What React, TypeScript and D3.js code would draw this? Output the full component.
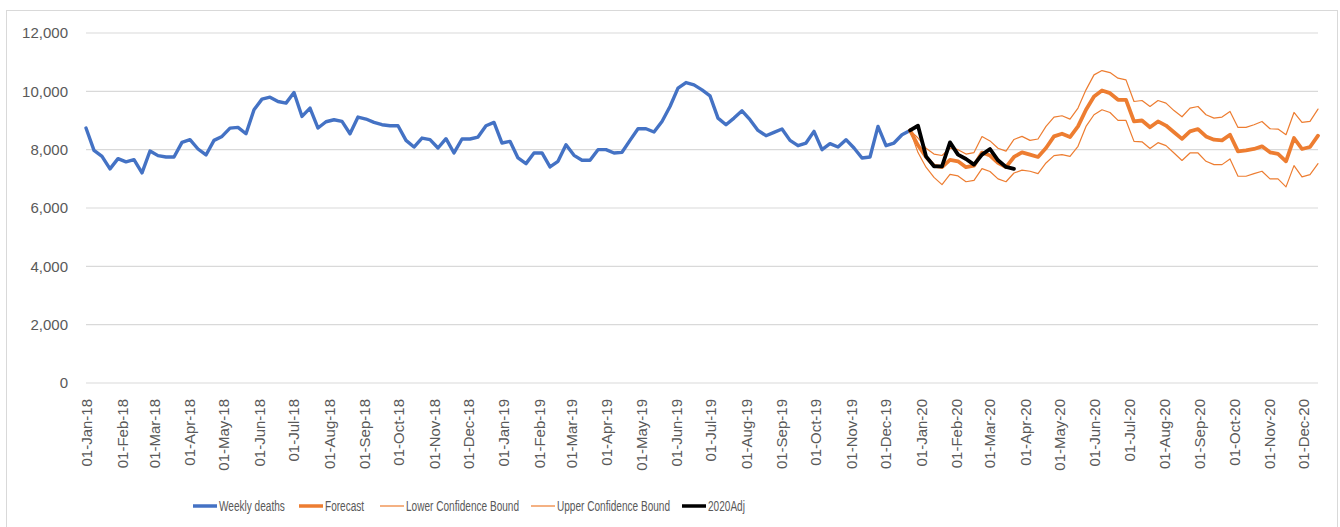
import React from "react";
import * as d3 from "d3";

// Weekly series start (Mondays), one value per week
const START_DATE = "2018-01-01";
const FORECAST_START_WEEK = 103;

const weeklyDeaths = [
  8742, 7977, 7772, 7340, 7692, 7580, 7658, 7203, 7955, 7795, 7750, 7750, 8250, 8342, 8023, 7818,
  8318, 8455, 8740, 8763, 8547, 9367, 9733, 9801, 9651, 9596, 9960, 9139, 9426, 8742, 8957, 9026,
  8968, 8547, 9117, 9050, 8935, 8855, 8820, 8820, 8318, 8090, 8398, 8342, 8057, 8376, 7887, 8365,
  8365, 8433, 8820, 8935, 8228, 8285, 7715, 7521, 7887, 7887, 7408, 7601, 8171, 7806, 7635, 7635,
  8000, 8000, 7887, 7909, 8318, 8718, 8718, 8604, 8968, 9481, 10108, 10302, 10222, 10051, 9846, 9083,
  8855, 9083, 9333, 9026, 8660, 8479, 8593, 8707, 8318, 8137, 8228, 8626, 8000, 8205, 8090, 8342,
  8057, 7715, 7750, 8797, 8137, 8228, 8513, 8660,
];

const forecast = [
  8660, 8150, 7750, 7450, 7400, 7650, 7600, 7400, 7450, 7900, 7800, 7550, 7400, 7750, 7909, 7829,
  7750, 8057, 8455, 8547, 8433, 8797, 9367, 9823, 10028, 9937, 9709, 9709, 8968, 9000, 8770, 8968,
  8826, 8600, 8370, 8626, 8707, 8455, 8342, 8318, 8513, 7943, 7977, 8023, 8114, 7909, 7853, 7601,
  8399, 8023, 8091, 8479,
];

const lowerBound = [
  8660, 7900, 7400, 7050, 6800, 7150, 7100, 6900, 6950, 7350, 7250, 7000, 6900, 7200, 7300, 7259,
  7180, 7545, 7795, 7829, 7772, 8114, 8797, 9197, 9367, 9276, 9003, 9003, 8285, 8270, 8040, 8240,
  8137, 7887, 7630, 7887, 7887, 7601, 7487, 7487, 7681, 7088, 7088, 7180, 7259, 7000, 7000, 6725,
  7453, 7067, 7145, 7521,
];

const upperBound = [
  8660, 8400, 8050, 7850, 7800, 8050, 8000, 7850, 7900, 8450, 8300, 8050, 7950, 8350, 8455, 8318,
  8365, 8797, 9117, 9162, 9048, 9426, 10051, 10564, 10711, 10643, 10451, 10393, 9651, 9686, 9481, 9686,
  9596, 9340, 9128, 9426, 9481, 9197, 9083, 9117, 9310, 8763, 8763, 8855, 8968, 8718, 8707, 8513,
  9276, 8935, 8968, 9391,
];

const adj2020 = [8660, 8820, 7772, 7430, 7430, 8250, 7829, 7681, 7487, 7829, 8023, 7635, 7408, 7340];

const yTicks = [0, 2000, 4000, 6000, 8000, 10000, 12000];

const legendItems = [
  { label: "Weekly deaths", color: "#4472C4", width: 3.5 },
  { label: "Forecast", color: "#ED7D31", width: 3.5 },
  { label: "Lower Confidence Bound", color: "#ED7D31", width: 1.2 },
  { label: "Upper Confidence Bound", color: "#ED7D31", width: 1.2 },
  { label: "2020Adj", color: "#000000", width: 3.5 },
];

const W = 1340;
const H = 527;
const plot = { left: 86, right: 1318, top: 33, bottom: 383 };

export default function App() {
  const start = new Date(START_DATE + "T00:00:00Z");
  const dateAt = (week: number) => d3.utcDay.offset(start, week * 7);
  const lastWeek = FORECAST_START_WEEK + forecast.length - 1;

  const x = d3.scaleUtc().domain([start, dateAt(lastWeek)]).range([plot.left, plot.right]);
  const y = d3.scaleLinear().domain([0, 12000]).range([plot.bottom, plot.top]);

  const line = d3
    .line<{ w: number; v: number }>()
    .x((d) => x(dateAt(d.w)))
    .y((d) => y(d.v))
    .curve(d3.curveLinear);

  const toPts = (arr: number[], offset: number) => arr.map((v, i) => ({ w: offset + i, v }));

  const months = d3.utcMonth.range(start, d3.utcDay.offset(dateAt(lastWeek), 1));
  const fmt = d3.utcFormat("%d-%b-%y");
  const yFmt = d3.format(",");

  const series = [
    { pts: toPts(weeklyDeaths, 0), color: "#4472C4", width: 3.4 },
    { pts: toPts(forecast, FORECAST_START_WEEK), color: "#ED7D31", width: 3.8 },
    { pts: toPts(lowerBound, FORECAST_START_WEEK), color: "#ED7D31", width: 1.2 },
    { pts: toPts(upperBound, FORECAST_START_WEEK), color: "#ED7D31", width: 1.2 },
    { pts: toPts(adj2020, FORECAST_START_WEEK), color: "#000000", width: 3.8 },
  ];

  // legend layout
  const legendX = [193, 299, 380, 531, 682];
  const legendY = 506;
  const squeeze = 0.65;

  return (
    <svg
      width={W}
      height={H}
      style={{ position: "absolute", left: 0, top: 0, background: "#fff" }}
      fontFamily="'Liberation Sans', Arial, sans-serif"
    >
      <rect x={6.5} y={10.5} width={1331} height={530} fill="#fff" stroke="#d9d9d9" strokeWidth={1} />
      {yTicks.map((t) => (
        <g key={t}>
          <line x1={plot.left} x2={plot.right} y1={y(t)} y2={y(t)} stroke="#d9d9d9" strokeWidth={1.2} />
          <text x={68} y={y(t)} dy="0.35em" textAnchor="end" fontSize={15} fill="#595959">
            {yFmt(t)}
          </text>
        </g>
      ))}
      {months.map((m) => (
        <text
          key={m.toISOString()}
          transform={`translate(${x(m) + 1},${399}) rotate(-90)`}
          dy="0.35em"
          textAnchor="end"
          fontSize={15}
          fill="#595959"
        >
          {fmt(m)}
        </text>
      ))}
      {series.map((s, i) => (
        <path
          key={i}
          d={line(s.pts) || ""}
          fill="none"
          stroke={s.color}
          strokeWidth={s.width}
          strokeLinejoin="round"
          strokeLinecap="round"
        />
      ))}
      {legendItems.map((it, i) => (
        <g key={it.label}>
          <line
            x1={legendX[i]}
            x2={legendX[i] + 24}
            y1={legendY}
            y2={legendY}
            stroke={it.color}
            strokeWidth={it.width}
          />
          <text
            transform={`translate(${legendX[i] + 26},${legendY}) scale(${squeeze},1)`}
            dy="0.35em"
            fontSize={15.5}
            fill="#595959"
          >
            {it.label}
          </text>
        </g>
      ))}
    </svg>
  );
}
